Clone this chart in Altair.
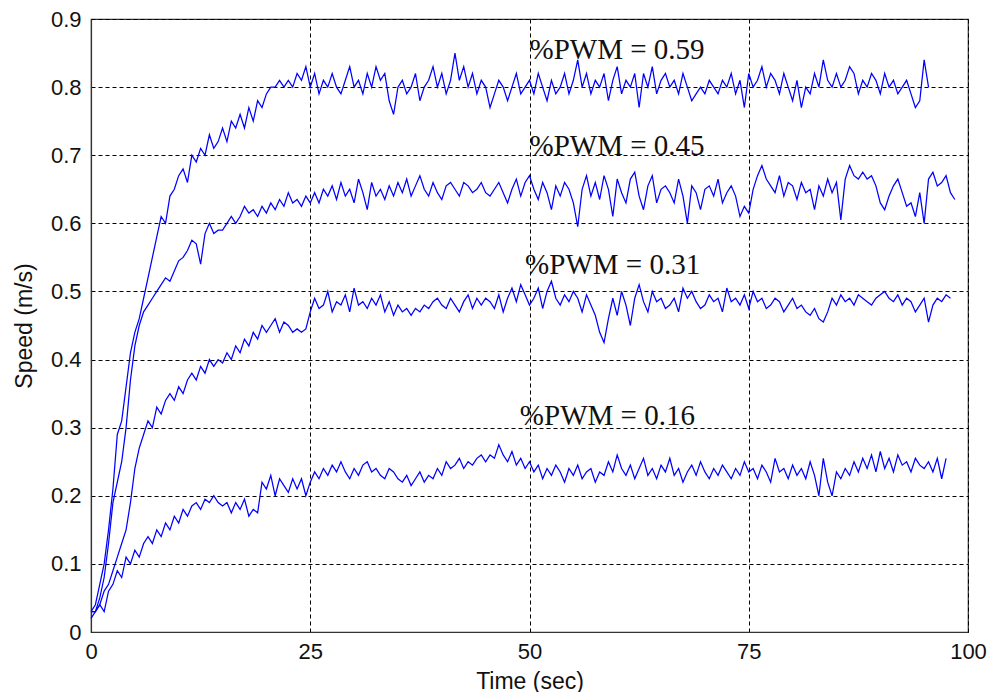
import altair as alt
import pandas as pd

# sample step of the recorded speed curves (seconds)
DT = 0.5

# %PWM = 0.59  (t = 0 .. ~95.5 s)
pwm059 = [
    0.03, 0.04, 0.07, 0.10, 0.15, 0.21, 0.29, 0.31, 0.36, 0.41, 0.44, 0.46, 0.49, 0.52, 0.55, 0.58, 0.61, 0.60, 0.64, 0.65,
    0.67, 0.68, 0.66, 0.70, 0.69, 0.71, 0.70, 0.73, 0.71, 0.72, 0.74, 0.72, 0.75, 0.74, 0.76, 0.74, 0.77, 0.75, 0.78, 0.77,
    0.79, 0.80, 0.80, 0.81, 0.80, 0.81, 0.80, 0.82, 0.81, 0.83, 0.80,
    0.82, 0.79, 0.81, 0.80, 0.82, 0.80, 0.79, 0.81, 0.83, 0.80, 0.81, 0.79, 0.82, 0.80, 0.83, 0.81, 0.82, 0.78, 0.76, 0.80,
    0.81, 0.79, 0.80, 0.82, 0.78, 0.80, 0.81, 0.83, 0.80, 0.82, 0.79, 0.81, 0.85, 0.81, 0.83, 0.80, 0.82, 0.79, 0.81, 0.80,
    0.77, 0.79, 0.81, 0.80, 0.78, 0.80, 0.82, 0.79, 0.80, 0.81, 0.79, 0.82, 0.80, 0.78, 0.81, 0.79, 0.80, 0.82, 0.79, 0.81,
    0.84, 0.80, 0.82, 0.79, 0.81, 0.80, 0.82, 0.78, 0.81, 0.83, 0.79, 0.81, 0.80, 0.82, 0.77, 0.82, 0.80, 0.83, 0.79, 0.81,
    0.82, 0.80, 0.81, 0.79, 0.82, 0.80, 0.78, 0.79, 0.80, 0.79, 0.81, 0.80, 0.79, 0.81, 0.80, 0.82, 0.79, 0.81, 0.77, 0.82,
    0.80, 0.81, 0.83, 0.80, 0.82, 0.81, 0.79, 0.82, 0.80, 0.78, 0.81, 0.77, 0.80, 0.79, 0.82, 0.80, 0.84, 0.81, 0.80, 0.82,
    0.80, 0.81, 0.83, 0.82, 0.79, 0.81, 0.80, 0.82, 0.81, 0.79, 0.82, 0.80, 0.81, 0.79, 0.80, 0.81, 0.79, 0.77, 0.78, 0.84,
    0.80,
]

# %PWM = 0.45  (t = 0 .. ~98.5 s)
pwm045 = [
    0.03, 0.03, 0.05, 0.08, 0.13, 0.19, 0.22, 0.25, 0.30, 0.37, 0.42, 0.45, 0.47, 0.48, 0.49, 0.50, 0.51, 0.52, 0.515, 0.53,
    0.545, 0.55, 0.56, 0.575, 0.57, 0.54, 0.585, 0.60, 0.585, 0.59, 0.59, 0.60, 0.61, 0.60, 0.61, 0.625, 0.615, 0.62, 0.61, 0.625,
    0.615, 0.63, 0.62, 0.635, 0.625, 0.645, 0.63, 0.635, 0.625, 0.64, 0.63,
    0.645, 0.63, 0.65, 0.64, 0.655, 0.635, 0.66, 0.64, 0.65, 0.63, 0.665, 0.645, 0.62, 0.66, 0.64, 0.65, 0.635, 0.655, 0.64, 0.66,
    0.645, 0.665, 0.64, 0.655, 0.67, 0.65, 0.64, 0.66, 0.645, 0.635, 0.655, 0.66, 0.65, 0.64, 0.66, 0.655, 0.645, 0.65, 0.66, 0.645,
    0.64, 0.65, 0.66, 0.645, 0.63, 0.65, 0.665, 0.64, 0.66, 0.67, 0.65, 0.635, 0.66, 0.645, 0.62, 0.655, 0.64, 0.66, 0.65, 0.63,
    0.595, 0.65, 0.67, 0.64, 0.66, 0.635, 0.67, 0.65, 0.61, 0.665, 0.645, 0.63, 0.665, 0.675, 0.64, 0.62, 0.655, 0.67, 0.63, 0.65,
    0.655, 0.645, 0.63, 0.665, 0.64, 0.60, 0.655, 0.645, 0.62, 0.65, 0.655, 0.64, 0.665, 0.63, 0.645, 0.655, 0.64, 0.61, 0.625, 0.615,
    0.65, 0.67, 0.685, 0.665, 0.655, 0.645, 0.67, 0.64, 0.66, 0.655, 0.635, 0.66, 0.645, 0.65, 0.62, 0.655, 0.64, 0.665, 0.645, 0.66,
    0.605, 0.665, 0.685, 0.67, 0.665, 0.675, 0.665, 0.67, 0.655, 0.63, 0.62, 0.64, 0.655, 0.665, 0.645, 0.625, 0.63, 0.61, 0.645, 0.60,
    0.665, 0.675, 0.655, 0.66, 0.67, 0.645, 0.635,
]

# %PWM = 0.31  (t = 0 .. ~98 s)
pwm031 = [
    0.03, 0.03, 0.04, 0.06, 0.07, 0.09, 0.11, 0.13, 0.15, 0.19, 0.24, 0.27, 0.29, 0.31, 0.30, 0.33, 0.32, 0.34, 0.35, 0.34,
    0.36, 0.35, 0.37, 0.38, 0.37, 0.39, 0.38, 0.40, 0.39, 0.40, 0.395, 0.41, 0.40, 0.42, 0.41, 0.43, 0.42, 0.44, 0.43, 0.45,
    0.44, 0.45, 0.46, 0.44, 0.455, 0.45, 0.44, 0.445, 0.44, 0.445, 0.47,
    0.49, 0.475, 0.48, 0.50, 0.47, 0.485, 0.48, 0.495, 0.47, 0.505, 0.48, 0.485, 0.475, 0.49, 0.48, 0.495, 0.47, 0.485, 0.465, 0.48,
    0.47, 0.475, 0.465, 0.475, 0.47, 0.48, 0.475, 0.485, 0.49, 0.48, 0.475, 0.49, 0.48, 0.47, 0.485, 0.495, 0.475, 0.49, 0.48, 0.49,
    0.485, 0.475, 0.495, 0.47, 0.49, 0.505, 0.485, 0.51, 0.495, 0.48, 0.49, 0.505, 0.475, 0.50, 0.515, 0.49, 0.48, 0.495, 0.485, 0.50,
    0.49, 0.47, 0.495, 0.48, 0.465, 0.44, 0.425, 0.46, 0.49, 0.465, 0.50, 0.48, 0.45, 0.49, 0.51, 0.485, 0.47, 0.50, 0.485, 0.49,
    0.475, 0.48, 0.49, 0.47, 0.505, 0.49, 0.50, 0.485, 0.475, 0.48, 0.495, 0.485, 0.49, 0.47, 0.505, 0.485, 0.49, 0.48, 0.495, 0.475,
    0.50, 0.485, 0.49, 0.475, 0.48, 0.49, 0.485, 0.47, 0.48, 0.49, 0.475, 0.48, 0.47, 0.465, 0.475, 0.46, 0.455, 0.47, 0.49, 0.48,
    0.495, 0.485, 0.49, 0.48, 0.495, 0.49, 0.485, 0.48, 0.49, 0.495, 0.50, 0.49, 0.485, 0.495, 0.48, 0.49, 0.485, 0.47, 0.48, 0.49,
    0.455, 0.48, 0.49, 0.485, 0.495, 0.49,
]

# %PWM = 0.16  (t = 0 .. ~97.5 s)
pwm016 = [
    0.02, 0.03, 0.04, 0.03, 0.06, 0.07, 0.09, 0.08, 0.11, 0.10, 0.12, 0.11, 0.13, 0.14, 0.13, 0.15, 0.14, 0.16, 0.15, 0.17,
    0.16, 0.18, 0.17, 0.185, 0.19, 0.18, 0.195, 0.19, 0.20, 0.19, 0.185, 0.19, 0.175, 0.19, 0.18, 0.195, 0.17, 0.18, 0.175, 0.22,
    0.21, 0.23, 0.20, 0.225, 0.215, 0.205, 0.225, 0.21, 0.225, 0.20, 0.22,
    0.235, 0.225, 0.24, 0.23, 0.245, 0.235, 0.25, 0.235, 0.225, 0.24, 0.23, 0.245, 0.25, 0.235, 0.24, 0.23, 0.225, 0.24, 0.235, 0.225,
    0.22, 0.23, 0.215, 0.225, 0.235, 0.22, 0.23, 0.225, 0.24, 0.23, 0.25, 0.24, 0.245, 0.255, 0.24, 0.25, 0.245, 0.255, 0.26, 0.25,
    0.26, 0.255, 0.275, 0.26, 0.25, 0.265, 0.245, 0.255, 0.24, 0.25, 0.235, 0.245, 0.225, 0.24, 0.23, 0.245, 0.235, 0.22, 0.24, 0.23,
    0.245, 0.225, 0.235, 0.24, 0.22, 0.235, 0.23, 0.25, 0.235, 0.26, 0.24, 0.23, 0.245, 0.225, 0.24, 0.255, 0.23, 0.24, 0.225, 0.245,
    0.235, 0.255, 0.23, 0.24, 0.22, 0.235, 0.245, 0.23, 0.25, 0.235, 0.225, 0.24, 0.23, 0.245, 0.235, 0.225, 0.24, 0.23, 0.25, 0.235,
    0.24, 0.225, 0.245, 0.235, 0.22, 0.255, 0.235, 0.24, 0.225, 0.245, 0.23, 0.24, 0.225, 0.25, 0.23, 0.20, 0.255, 0.22, 0.20, 0.235,
    0.225, 0.24, 0.23, 0.25, 0.235, 0.255, 0.24, 0.26, 0.235, 0.265, 0.24, 0.255, 0.235, 0.26, 0.245, 0.25, 0.235, 0.255, 0.245, 0.24,
    0.25, 0.235, 0.255, 0.225, 0.255,
]

series_names = ["0.59", "0.45", "0.31", "0.16"]
series_values = [pwm059, pwm045, pwm031, pwm016]

label_texts = ["%PWM = 0.59", "%PWM = 0.45", "%PWM = 0.31", "%PWM = 0.16"]
label_t = [50.0, 50.0, 49.5, 48.9]
label_v = [0.842, 0.700, 0.525, 0.304]

x_ticks = [0, 25, 50, 75, 100]
y_ticks = [0, 0.1, 0.2, 0.3, 0.4, 0.5, 0.6, 0.7, 0.8, 0.9]

rows = []
for name, vals in zip(series_names, series_values):
    for i, v in enumerate(vals):
        rows.append({"t": i * DT, "v": v, "s": name})
df = pd.DataFrame(rows)

lab = pd.DataFrame({"t": label_t, "v": label_v, "txt": label_texts})

x_scale = alt.Scale(domain=[0, 100], nice=False, zero=False)
y_scale = alt.Scale(domain=[0, 0.9], nice=False, zero=False)

lines = alt.Chart(df).mark_line(color="#0000ff", strokeWidth=1.25).encode(
    x=alt.X("t:Q", scale=x_scale, axis=alt.Axis(
        values=x_ticks, title="Time (sec)", format="d",
        labelPadding=9, titleBaseline="alphabetic", titleY=56)),
    y=alt.Y("v:Q", scale=y_scale, axis=alt.Axis(
        values=y_ticks, title="Speed (m/s)",
        labelExpr="datum.value == 0 ? '0' : format(datum.value, '.1f')",
        labelPadding=10, titlePadding=14)),
    detail="s:N",
)

texts = alt.Chart(lab).mark_text(
    font="Liberation Serif", fontSize=29, align="left", baseline="alphabetic", color="#111111"
).encode(
    x=alt.X("t:Q", scale=x_scale),
    y=alt.Y("v:Q", scale=y_scale),
    text="txt:N",
)

chart = (lines + texts).properties(
    width=877, height=613,
    autosize=alt.AutoSizeParams(type="none"),
    padding={"left": 83, "top": 11, "right": 19, "bottom": 60},
).configure_view(
    stroke="#333333", strokeWidth=1.2
).configure_axis(
    grid=True, gridColor="#000000", gridDash=[4, 3], gridWidth=1, gridOpacity=1,
    domainColor="#333333", domainWidth=1.2,
    ticks=False, labelFlush=False,
    labelFont="Liberation Sans", labelFontSize=22, labelColor="#111111",
    titleFont="Liberation Sans", titleFontSize=23, titleFontWeight="normal", titleColor="#111111",
)

chart.save("out.html", embed_options={"renderer": "svg", "actions": False})
